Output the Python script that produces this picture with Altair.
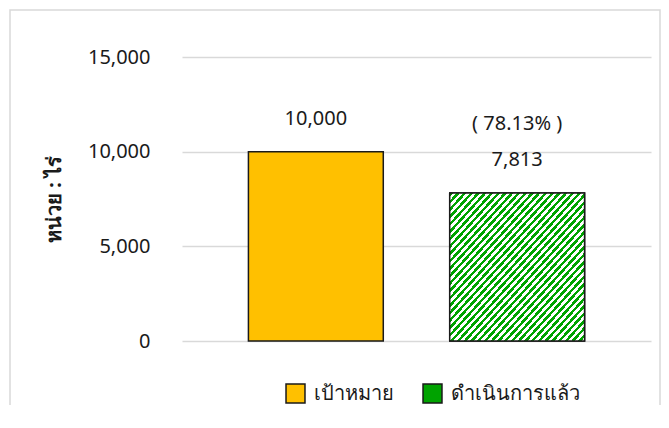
import altair as alt
import pandas as pd

categories = ["เป้าหมาย", "ดำเนินการแล้ว"]
values = [10000, 7813]
pct_labels = ["", "( 78.13% )"]
y_ticks = [0, 5000, 10000, 15000]
bar_colors = ["#FFC000", "#00A300"]

FONT = "Noto Sans"
TXT = "#1a1a1a"

df = pd.DataFrame({"cat": categories, "value": values, "pct": pct_labels})

# diagonal hatch via hard-stop linear gradient
stops = []
N = 40
for k in range(N):
    a = k / N
    b = (k + 0.5) / N
    c = (k + 1) / N
    stops += [
        alt.GradientStop(offset=a, color="#00A300"),
        alt.GradientStop(offset=b, color="#00A300"),
        alt.GradientStop(offset=b, color="#ffffff"),
        alt.GradientStop(offset=c, color="#ffffff"),
    ]
hatch = alt.LinearGradient(gradient="linear", stops=stops, x1=0, y1=0, x2=1, y2=1)

x_enc = alt.X("cat:N", sort=categories,
              scale=alt.Scale(paddingInner=0.33, paddingOuter=0.33), axis=None)
y_enc = alt.Y("value:Q",
              scale=alt.Scale(domain=[0, 15000], nice=False),
              axis=alt.Axis(values=y_ticks, format=",.0f", domain=False, ticks=False,
                            labelPadding=32, labelFontSize=20, labelColor=TXT, labelFont=FONT,
                            gridColor="#d9d9d9", gridWidth=1.3,
                            title="หน่วย : ไร่", titleFontSize=20, titleFont=FONT,
                            titleFontWeight="bold", titleColor=TXT,
                            titleAngle=270, titleX=-128, titleY=142,
                            titleAlign="center", titleBaseline="middle"))

base = alt.Chart(df)

bars = base.mark_bar(stroke="#1a1a1a", strokeWidth=1.5).encode(
    x=x_enc, y=y_enc,
    color=alt.Color("cat:N", sort=categories,
                    scale=alt.Scale(domain=categories, range=bar_colors),
                    legend=alt.Legend(title=None, orient="none", legendX=103, legendY=326,
                                      direction="horizontal", symbolType="square",
                                      symbolSize=360, symbolStrokeColor="#1a1a1a",
                                      symbolStrokeWidth=1.5, symbolOpacity=1,
                                      labelFontSize=20, labelFont=FONT, labelColor=TXT,
                                      labelOffset=8, columnPadding=26)),
)

hatched = base.transform_filter(alt.datum.cat == categories[1]).mark_bar(
    fill=hatch, stroke="#1a1a1a", strokeWidth=1.5).encode(x=x_enc, y=y_enc)

labels = base.mark_text(dy=-33, fontSize=20, font=FONT, color=TXT, baseline="middle").encode(
    x=x_enc, y=y_enc, text=alt.Text("value:Q", format=",.0f"))

pcts = base.mark_text(dy=-69, fontSize=20, font=FONT, color=TXT, baseline="middle").encode(
    x=x_enc, y=y_enc, text="pct:N")

frame = alt.Chart(alt.Data(values=[{}])).mark_rect(
    fillOpacity=0, stroke="#d9d9d9", strokeWidth=1.5).encode(
    x=alt.value(-172), x2=alt.value(478), y=alt.value(-47), y2=alt.value(420))

chart = alt.layer(frame, bars, hatched, labels, pcts).properties(
    width=469, height=284,
    autosize=alt.AutoSizeParams(type="none"),
    padding={"left": 174, "top": 49, "right": 10, "bottom": 64},
).configure_view(stroke=None)

chart.save("out.html", embed_options={"renderer": "svg", "actions": False})
